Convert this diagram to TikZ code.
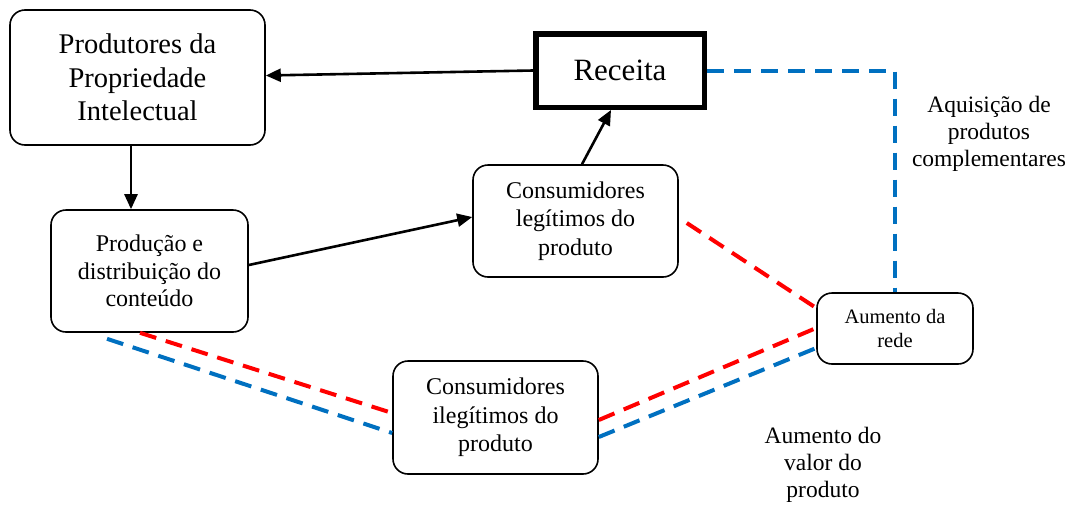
\documentclass[tikz,border=0pt]{standalone}
\usepackage{fontspec}
\setmainfont{Liberation Serif}
\usetikzlibrary{arrows.meta}
\definecolor{dred}{RGB}{255,0,0}
\definecolor{dblue}{RGB}{0,112,192}
\tikzset{
  x=1pt, y=-1pt,
  rbox/.style={draw, line width=1.6pt, rounded corners=15pt, align=center, inner sep=0pt},
  arr/.style={line width=2.6pt, -{Triangle[length=15pt,width=13pt]}},
  reddash/.style={draw=dred, line width=4pt, dash pattern=on 17pt off 10pt},
  bluedash/.style={draw=dblue, line width=4pt, dash pattern=on 17pt off 10pt},
  freetext/.style={align=center, inner sep=0pt, font=\fontsize{23.5}{27}\selectfont}
}
\begin{document}
\begin{tikzpicture}
\useasboundingbox[fill=white] (0,0) rectangle (1071,504);

\node[rbox, minimum width=255pt, minimum height=135pt, font=\fontsize{28.5}{33.5}\selectfont] (prod) at (137.5,77.5) {Produtores da\\Propriedade\\Intelectual};
\node[draw, line width=5.5pt, minimum width=168.5pt, minimum height=73.5pt, inner sep=0pt, font=\fontsize{31}{36}\selectfont] (rec) at (620,70.5) {Receita};
\node[rbox, minimum width=197pt, minimum height=122pt, font=\fontsize{24}{27.5}\selectfont] (dist) at (149.5,271) {Produção e\\distribuição do\\conteúdo};
\node[rbox, minimum width=205pt, minimum height=112pt, font=\fontsize{24}{28.5}\selectfont] (legit) at (575.5,221) {Consumidores\\legítimos do\\produto};
\node[rbox, minimum width=205pt, minimum height=113pt, font=\fontsize{24}{28.5}\selectfont] (ileg) at (495.5,417.5) {Consumidores\\ilegítimos do\\produto};
\node[rbox, minimum width=156pt, minimum height=71pt, font=\fontsize{20.5}{24}\selectfont] (aum) at (895,328.5) {Aumento da\\rede};

\node[freetext] (aquis) at (989,134) {Aquisição de\\produtos\\complementares};
\node[freetext] (valor) at (823,465) {Aumento do\\valor do\\produto};

% arrows
\draw[arr] (rec.west) -- ([yshift=2pt]prod.east);
\draw[arr] ([xshift=-6.5pt]prod.south) -- ([xshift=-18.5pt]dist.north);
\draw[arr] ([yshift=6pt]dist.east) -- ([yshift=4pt]legit.west);
\draw[arr] ([xshift=6.5pt]legit.north) -- ([xshift=-9pt]rec.south);

% dashed links
\draw[reddash] ([xshift=8pt,yshift=-2pt]legit.east) -- ([yshift=20.5pt]aum.west);
\draw[reddash] ([xshift=-9.5pt]dist.south) -- ([yshift=4.5pt]ileg.west);
\draw[bluedash] ([xshift=-42.5pt,yshift=-6pt]dist.south) -- ([yshift=-15.5pt]ileg.west);
\draw[reddash] ([yshift=-2.5pt]ileg.east) -- ([yshift=0.5pt]aum.west);
\draw[bluedash] ([yshift=-19.5pt]ileg.east) -- ([yshift=-19.5pt]aum.west);
\draw[bluedash] (rec.east) -| (aum.north);
\end{tikzpicture}
\end{document}
